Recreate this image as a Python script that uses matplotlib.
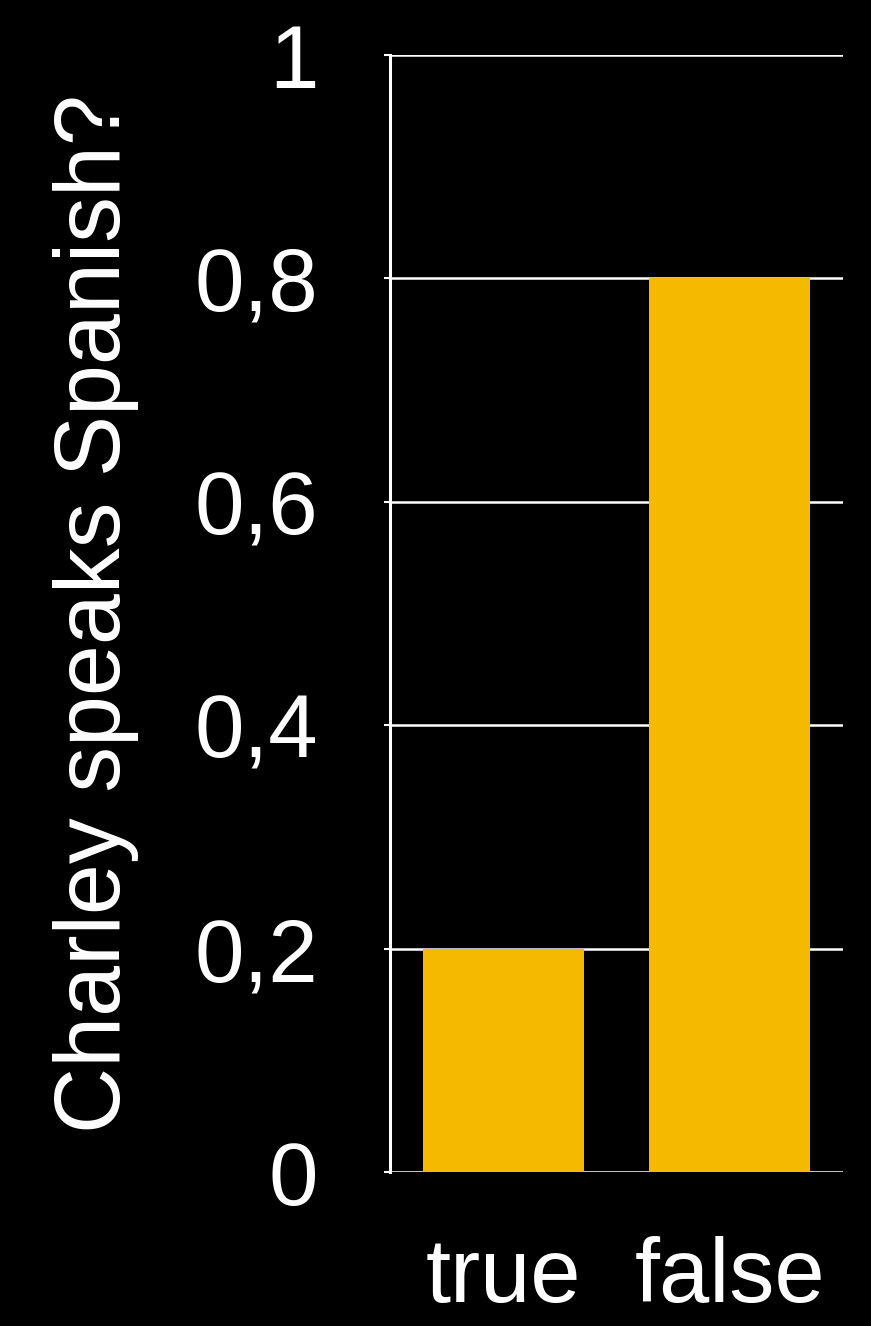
import matplotlib
matplotlib.use("Agg")
import matplotlib.pyplot as plt

categories = ["true", "false"]
values = [0.2, 0.8]
yticks = [0, 0.2, 0.4, 0.6, 0.8, 1]
ytick_labels = ["0", "0,2", "0,4", "0,6", "0,8", "1"]
ylabel = "Charley speaks Spanish?"

plt.rcParams['font.family'] = ['Liberation Sans', 'DejaVu Sans']

fig = plt.figure(figsize=(8.71, 13.26), dpi=100, facecolor='black')
ax = fig.add_axes([390/871, 1 - 1172/1326, (843 - 390)/871, (1172 - 55)/1326])
ax.set_facecolor('black')

x = list(range(len(categories)))
ax.bar(x, values, width=0.71, color='#F5BA00', zorder=3)

ax.set_xlim(-0.5, 1.5)
ax.set_ylim(0, 1)
ax.set_yticks(yticks)
ax.set_yticklabels(ytick_labels)
ax.set_xticks(x)
ax.set_xticklabels(categories)

ax.yaxis.grid(True, color='white', linewidth=1.8, zorder=1)
ax.set_axisbelow(True)

for s in ['top', 'right', 'bottom']:
    ax.spines[s].set_visible(False)
ax.spines['left'].set_color('white')
ax.spines['left'].set_linewidth(2.2)

ax.tick_params(axis='y', colors='white', labelsize=64, length=4.5, width=1.5, pad=47)
ax.tick_params(axis='x', colors='white', labelsize=65, length=0, pad=46)
for lab in ax.get_yticklabels() + ax.get_xticklabels():
    lab.set_color('white')

ax.set_ylabel(ylabel, color='white', fontsize=66, labelpad=40)

fig.savefig('out.png', dpi=100, facecolor='black')
